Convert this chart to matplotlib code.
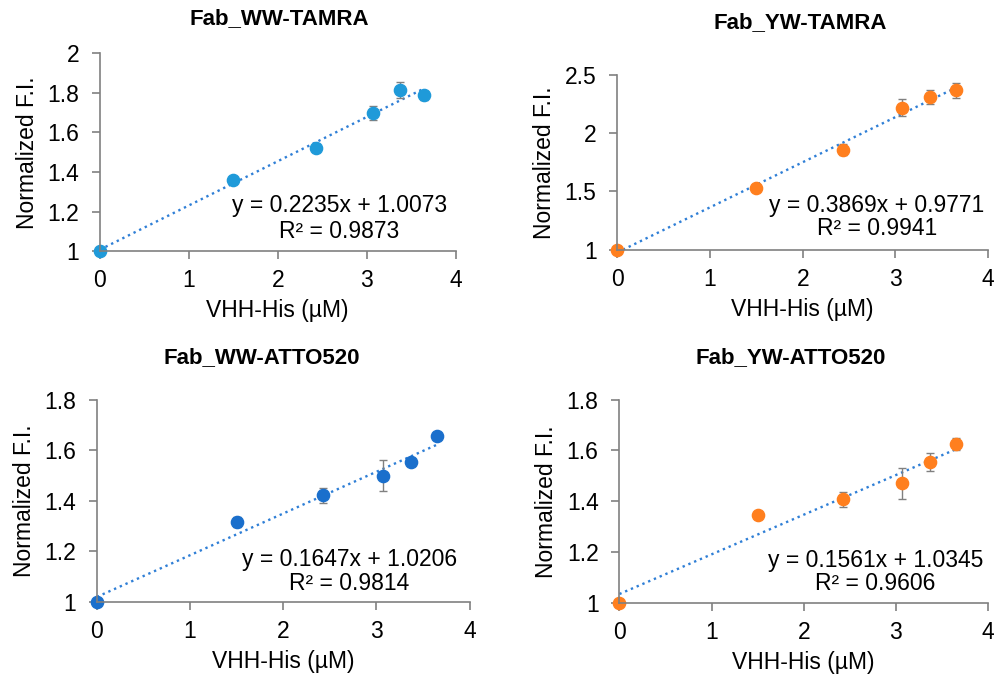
import matplotlib.pyplot as plt
import numpy as np

plt.rcParams['font.family'] = ['Liberation Sans', 'DejaVu Sans']

conc = [0, 1.5, 2.43, 3.07, 3.37, 3.65]

titles = ['Fab_WW-TAMRA', 'Fab_YW-TAMRA', 'Fab_WW-ATTO520', 'Fab_YW-ATTO520']
fi = [
    [1.0, 1.36, 1.52, 1.70, 1.815, 1.787],
    [1.0, 1.53, 1.86, 2.22, 2.31, 2.37],
    [1.0, 1.315, 1.422, 1.50, 1.552, 1.655],
    [1.0, 1.345, 1.408, 1.47, 1.555, 1.625],
]
err = [
    [0.0, 0.01, 0.02, 0.035, 0.04, 0.025],
    [0.0, 0.015, 0.05, 0.07, 0.06, 0.065],
    [0.0, 0.02, 0.03, 0.06, 0.015, 0.01],
    [0.0, 0.005, 0.03, 0.06, 0.035, 0.025],
]
slope = [0.2235, 0.3869, 0.1647, 0.1561]
icpt = [1.0073, 0.9771, 1.0206, 1.0345]
r2 = ['0.9873', '0.9941', '0.9814', '0.9606']
colors = ['#1f9ad9', '#ff7f1e', '#1a6fcc', '#ff7f1e']

yticks = [np.arange(1, 2.01, 0.2), [1, 1.5, 2, 2.5], np.arange(1, 1.81, 0.2), np.arange(1, 1.81, 0.2)]
ytick_lbl = [['1', '1.2', '1.4', '1.6', '1.8', '2'], ['1', '1.5', '2', '2.5'],
             ['1', '1.2', '1.4', '1.6', '1.8'], ['1', '1.2', '1.4', '1.6', '1.8']]
# axes rectangles in figure fractions
rects = [[0.100, 0.628, 0.356, 0.293], [0.618, 0.630, 0.371, 0.259],
         [0.097, 0.108, 0.373, 0.300], [0.620, 0.107, 0.369, 0.301]]
eq_pos = [(2.69, 1.23, 1.10), (2.80, 1.38, 1.18), (2.71, 1.17, 1.075), (2.78, 1.167, 1.075)]
title_pos = [(0.280, 0.972), (0.801, 0.967), (0.262, 0.470), (0.791, 0.470)]

fig = plt.figure(figsize=(9.99, 6.75), dpi=100)
grey = '#808080'
fs = 16.5
for i in range(4):
    ax = fig.add_axes(rects[i])
    xs = np.array([0, max(conc)])
    ax.plot(xs, slope[i] * xs + icpt[i], ':', color='#2f7fd6', lw=1.7, zorder=1)
    ax.errorbar(conc, fi[i], yerr=err[i], fmt='o', color=colors[i], ms=8.8,
                ecolor=grey, elinewidth=1, capsize=3, capthick=1, zorder=2)
    ax.set_xlim(0, 4)
    ax.set_ylim(1, yticks[i][-1])
    ax.set_xticks([0, 1, 2, 3, 4])
    ax.set_yticks(yticks[i])
    ax.set_yticklabels(ytick_lbl[i])
    for s in ['top', 'right']:
        ax.spines[s].set_visible(False)
    for s in ['left', 'bottom']:
        ax.spines[s].set_color(grey)
        ax.spines[s].set_linewidth(1.2)
    ax.tick_params(colors=grey, labelcolor='black', labelsize=fs, length=6, width=1.2)
    ax.tick_params(axis='x', pad=7)
    ax.tick_params(axis='y', pad=9)
    ax.set_xlabel('VHH-His (µM)', fontsize=fs, labelpad=5)
    ax.set_ylabel('Normalized F.I.', fontsize=fs, labelpad=6)
    for c in ax.get_children():
        c.set_clip_on(False)
    ex, ey1, ey2 = eq_pos[i]
    ax.text(ex, ey1, f'y = {slope[i]}x + {icpt[i]}', ha='center', va='center', fontsize=fs)
    ax.text(ex, ey2, f'R² = {r2[i]}', ha='center', va='center', fontsize=fs)
    fig.text(title_pos[i][0], title_pos[i][1], titles[i], ha='center', va='center',
             fontsize=16, fontweight='bold')

fig.savefig('out.png', dpi=100)
